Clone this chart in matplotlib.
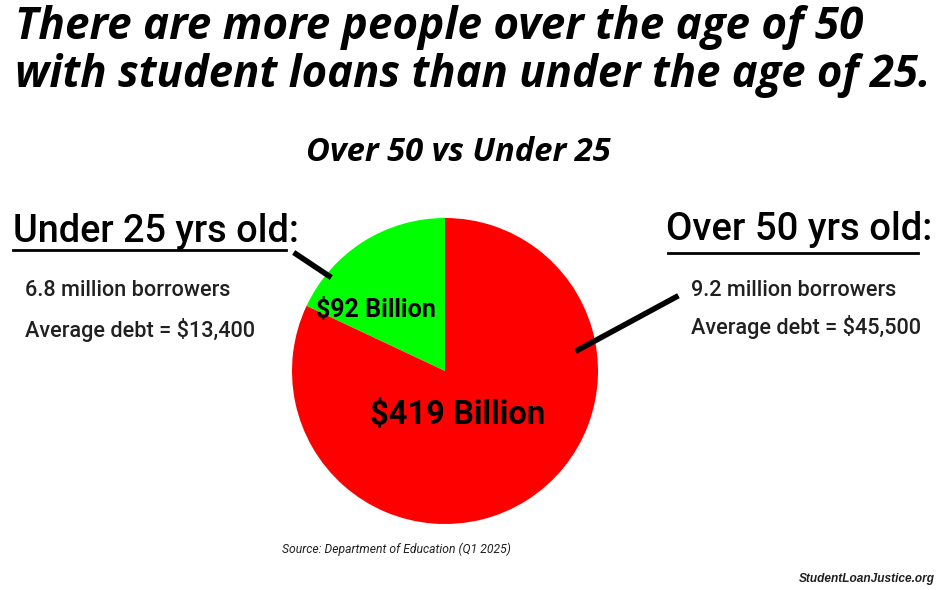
import matplotlib.pyplot as plt
import matplotlib
from matplotlib.lines import Line2D

matplotlib.rcParams['font.family'] = ['Roboto', 'DejaVu Sans']

# data
groups = ['Under 25', 'Over 50']
debt_billion = [92, 419]
borrowers_million = [6.8, 9.2]
avg_debt = [13400, 45500]
colors = ['#00ff00', '#ff0000']

W, H = 948, 590
fig = plt.figure(figsize=(W / 100, H / 100), dpi=100)
fig.patch.set_facecolor('white')

def fx(x):
    return x / W

def fy(y):
    return 1 - y / H

head = ['Open Sans', 'DejaVu Sans']

# pie, center (445, 371) px, radius 153 px
cx, cy, r = 445, 371, 153
ax = fig.add_axes([fx(cx - r), fy(cy + r), 2 * r / W, 2 * r / H])
ax.pie(debt_billion, colors=colors, startangle=90, counterclock=True,
       wedgeprops={'linewidth': 0})
ax.set_xlim(-1, 1)
ax.set_ylim(-1, 1)
ax.set_aspect('equal')
ax.axis('off')

ax.text(-0.45, 0.40, f'${debt_billion[0]} Billion', ha='center', va='center',
        fontsize=18, fontweight='bold')
ax.text(0.08, -0.29, f'${debt_billion[1]} Billion', ha='center', va='center',
        fontsize=23.5, fontweight='bold')

# headline
fig.text(fx(15), fy(39), 'There are more people over the age of 50', ha='left',
         va='baseline', fontsize=31.7, fontweight='bold', style='italic', family=head)
fig.text(fx(15), fy(87), 'with student loans than under the age of 25.', ha='left',
         va='baseline', fontsize=31.4, fontweight='bold', style='italic', family=head)

fig.text(fx(458), fy(161), 'Over 50 vs Under 25', ha='center', va='baseline',
         fontsize=23.6, fontweight='bold', style='italic', family=head)

# left block
fig.text(fx(13), fy(242), f'{groups[0]} yrs old:', ha='left', va='baseline',
         fontsize=27.3, fontweight='medium')
fig.add_artist(Line2D([fx(13), fx(286)], [fy(250), fy(250)], color='black', lw=2))
fig.text(fx(25), fy(296), f'{borrowers_million[0]} million borrowers', ha='left',
         va='baseline', fontsize=15.6, fontweight='medium', color='#202020')
fig.text(fx(25), fy(337), f'Average debt = ${avg_debt[0]:,}', ha='left',
         va='baseline', fontsize=15.6, fontweight='medium', color='#202020')
fig.add_artist(Line2D([fx(296), fx(329)], [fy(254), fy(276)], color='black', lw=4))

# right block
fig.text(fx(666), fy(240), f'{groups[1]} yrs old:', ha='left', va='baseline',
         fontsize=27.5, fontweight='medium')
fig.add_artist(Line2D([fx(668), fx(918)], [fy(253), fy(253)], color='black', lw=2))
fig.text(fx(691), fy(296), f'{borrowers_million[1]} million borrowers', ha='left',
         va='baseline', fontsize=15.6, fontweight='medium', color='#202020')
fig.text(fx(691), fy(334), f'Average debt = ${avg_debt[1]:,}', ha='left',
         va='baseline', fontsize=15.6, fontweight='medium', color='#202020')
fig.add_artist(Line2D([fx(578), fx(676)], [fy(350), fy(297)], color='black', lw=4))

# footer
fig.text(fx(282), fy(553), 'Source: Department of Education (Q1 2025)', ha='left',
         va='baseline', fontsize=8.7, style='italic', color='#202020')
fig.text(fx(935), fy(582), 'StudentLoanJustice.org', ha='right', va='baseline',
         fontsize=8.6, fontweight='bold', style='italic', color='#202020',
         family=['Liberation Sans', 'DejaVu Sans'])

fig.savefig('out.png', dpi=100, facecolor='white')
